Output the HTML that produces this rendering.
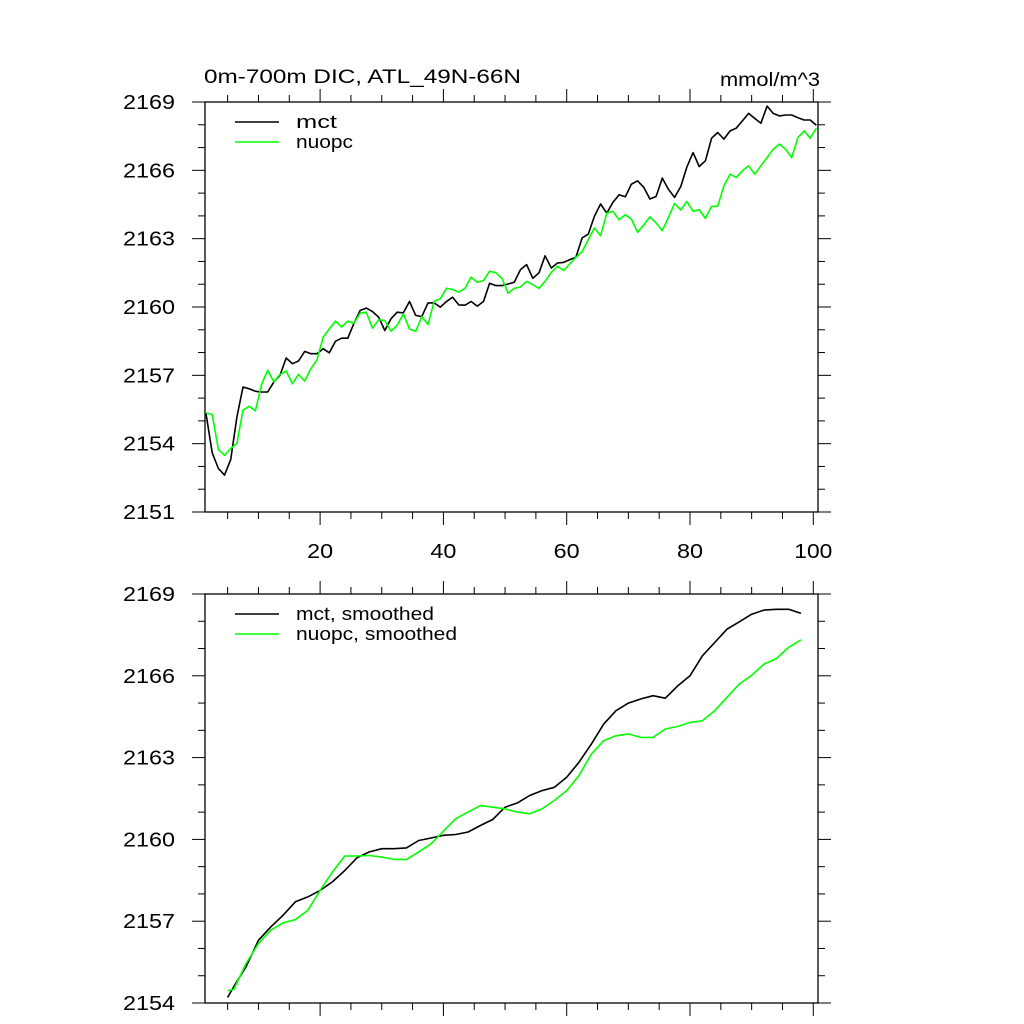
<!DOCTYPE html>
<html><head><meta charset="utf-8"><style>
html,body{margin:0;padding:0;background:#fff;}
svg{display:block;font-family:"Liberation Sans",sans-serif;}
</style></head><body>
<svg id="chart" width="1024" height="1024" viewBox="0 0 1024 1024"></svg>
<script>
// ---- data ----
const mctRaw = [2155.32,2153.60,2152.91,2152.62,2153.30,2155.17,2156.49,2156.41,2156.30,2156.27,
2156.27,2156.71,2157.00,2157.76,2157.51,2157.63,2158.05,2157.95,2157.95,2158.17,
2157.99,2158.50,2158.63,2158.63,2159.29,2159.85,2159.95,2159.80,2159.55,2158.97,
2159.48,2159.77,2159.74,2160.24,2159.63,2159.58,2160.18,2160.18,2159.99,2160.24,
2160.43,2160.09,2160.08,2160.24,2160.04,2160.24,2161.04,2160.94,2160.94,2161.01,
2161.09,2161.64,2161.86,2161.26,2161.50,2162.25,2161.71,2161.93,2161.96,2162.08,
2162.18,2163.03,2163.20,2163.98,2164.52,2164.12,2164.59,2164.93,2164.84,2165.39,
2165.54,2165.25,2164.74,2164.85,2165.66,2165.17,2164.81,2165.29,2166.15,2166.78,
2166.17,2166.42,2167.41,2167.66,2167.37,2167.73,2167.85,2168.17,2168.50,2168.28,
2168.07,2168.82,2168.50,2168.39,2168.43,2168.43,2168.31,2168.21,2168.21,2167.98];
const nuopcRaw = [2155.35,2155.28,2153.74,2153.49,2153.79,2154.01,2155.47,2155.64,2155.44,2156.59,
2157.22,2156.71,2157.04,2157.19,2156.63,2157.04,2156.75,2157.29,2157.68,2158.68,
2159.04,2159.38,2159.12,2159.38,2159.29,2159.73,2159.77,2159.07,2159.44,2159.41,
2158.94,2159.19,2159.70,2159.04,2158.93,2159.58,2159.23,2160.25,2160.36,2160.82,
2160.77,2160.65,2160.82,2161.31,2161.09,2161.16,2161.57,2161.50,2161.26,2160.60,
2160.82,2160.88,2161.13,2160.98,2160.82,2161.13,2161.52,2161.79,2161.60,2161.89,
2162.18,2162.43,2162.96,2163.47,2163.13,2164.12,2164.20,2163.83,2164.05,2163.86,
2163.28,2163.60,2163.96,2163.69,2163.35,2163.93,2164.55,2164.26,2164.63,2164.20,
2164.27,2163.89,2164.42,2164.42,2165.32,2165.83,2165.69,2165.98,2166.20,2165.83,
2166.20,2166.56,2166.93,2167.15,2166.93,2166.56,2167.44,2167.73,2167.41,2167.85];
const smX = [5,6,8,10,12,14,16,18,20,22,24,26,28,30,32,34,36,38,40,42,44,46,48,50,52,54,56,58,60,62,64,66,68,70,72,74,76,78,80,82,84,86,88,90,92,94,96,98];
const mctSmooth = [2154.2,2154.6,2155.33,2156.30,2156.79,2157.22,2157.71,2157.89,2158.13,2158.44,2158.86,2159.33,2159.54,2159.66,2159.66,2159.69,2159.96,2160.05,2160.15,2160.18,2160.27,2160.51,2160.73,2161.18,2161.34,2161.61,2161.79,2161.91,2162.28,2162.83,2163.50,2164.23,2164.72,2165.00,2165.15,2165.27,2165.18,2165.63,2166.00,2166.73,2167.22,2167.71,2167.98,2168.26,2168.41,2168.44,2168.44,2168.29];
const nuopcSmooth = [2154.45,2154.5,2155.45,2156.18,2156.67,2156.94,2157.06,2157.40,2158.13,2158.80,2159.39,2159.39,2159.41,2159.35,2159.27,2159.26,2159.54,2159.84,2160.30,2160.76,2161.00,2161.24,2161.18,2161.12,2161.00,2160.94,2161.12,2161.43,2161.79,2162.34,2163.13,2163.62,2163.80,2163.87,2163.74,2163.74,2164.05,2164.14,2164.29,2164.35,2164.72,2165.21,2165.70,2166.02,2166.43,2166.63,2167.04,2167.32];
const xTicks = [20,40,60,80,100];
const yTicksTop = [2151,2154,2157,2160,2163,2166,2169];
const yTicksBot = [2154,2157,2160,2163,2166,2169];

const NS='http://www.w3.org/2000/svg';
const svg=document.getElementById('chart');
function mk(tag,attrs,parent){const e=document.createElementNS(NS,tag);for(const k in attrs)e.setAttribute(k,attrs[k]);(parent||svg).appendChild(e);return e;}

const L=205,R=818;
function sx(v){return 196.8+6.165*v;}
const xMin=(L-196.8)/6.165, xMax=(R-196.8)/6.165;

function panel(name,top,bot,ymin,ymax,yTicks,showXLabels){
  const g=mk('g',{});
  
  
  const sy=v=>bot-(v-ymin)/(ymax-ymin)*(bot-top);
  const frame=mk('rect',{x:L,y:top,width:R-L,height:bot-top,fill:'none',stroke:'#000','stroke-width':1.3},g);
  
  
  for(let v=ymin;v<=ymax;v++){
    const major=yTicks.includes(v);const len=major?13:7;const y=sy(v);
    mk('line',{x1:L-len,y1:y,x2:L,y2:y,stroke:'#000','stroke-width':1},g);
    mk('line',{x1:R,y1:y,x2:R+len,y2:y,stroke:'#000','stroke-width':1},g);
  }
  yTicks.forEach(v=>{
    const t=mk('text',{x:175,y:sy(v)+7,'text-anchor':'end','font-size':20,fill:'#000',textLength:52,lengthAdjust:'spacingAndGlyphs'},g);
    t.textContent=v;
    
    
  });
  for(let v=5;v<=xMax;v+=5){
    if(v<xMin)continue;
    const major=xTicks.includes(v);const len=major?13:7;const x=sx(v);
    mk('line',{x1:x,y1:top-len,x2:x,y2:top,stroke:'#000','stroke-width':1},g);
    mk('line',{x1:x,y1:bot,x2:x,y2:bot+len,stroke:'#000','stroke-width':1},g);
  }
  if(showXLabels){
    xTicks.forEach(v=>{
      const w=String(v).length===3?38:26;
      const t=mk('text',{x:sx(v),y:bot+46,'text-anchor':'middle','font-size':20,fill:'#000',textLength:w,lengthAdjust:'spacingAndGlyphs'},g);
      t.textContent=v;
      
      
    });
  }
  return {g,sy};
}
function series(p,xs,ys,color,name){
  const pts=xs.map((x,i)=>sx(x).toFixed(1)+','+p.sy(ys[i]).toFixed(1)).join(' ');
  const pl=mk('polyline',{points:pts,fill:'none',stroke:color,'stroke-width':1.6,'stroke-linejoin':'round'},p.g);
  
  
}
function legend(p,y,color,label,w,name){
  const g=mk('g',{},p.g);
  
  
  mk('line',{x1:235,y1:y,x2:279,y2:y,stroke:color,'stroke-width':1.6},g);
  const t=mk('text',{x:296,y:y+6,'font-size':18,fill:'#000',textLength:w,lengthAdjust:'spacingAndGlyphs'},g);
  t.textContent=label;
}

const p1=panel('raw-panel',102,512,2151,2169,yTicksTop,true);
const rawX=mctRaw.map((_,i)=>i+1.5);
series(p1,rawX,mctRaw,'#000','mct-line');
series(p1,rawX,nuopcRaw,'#00ff00','nuopc-line');
legend(p1,122,'#000','mct',41,'legend-mct');
legend(p1,142,'#00ff00','nuopc',57,'legend-nuopc');
const title=mk('text',{x:204,y:83,'font-size':19,fill:'#000',textLength:317,lengthAdjust:'spacingAndGlyphs'});
title.textContent='0m-700m DIC, ATL_49N-66N';


const units=mk('text',{x:720,y:86,'font-size':19,fill:'#000',textLength:100,lengthAdjust:'spacingAndGlyphs'});
units.textContent='mmol/m^3';



const p2=panel('smoothed-panel',594,1003,2154,2169,yTicksBot,false);
series(p2,smX,mctSmooth,'#000','mct-smoothed-line');
series(p2,smX,nuopcSmooth,'#00ff00','nuopc-smoothed-line');
legend(p2,614,'#000','mct, smoothed',138,'legend-mct-smoothed');
legend(p2,634,'#00ff00','nuopc, smoothed',161,'legend-nuopc-smoothed');
</script>
</body></html>
